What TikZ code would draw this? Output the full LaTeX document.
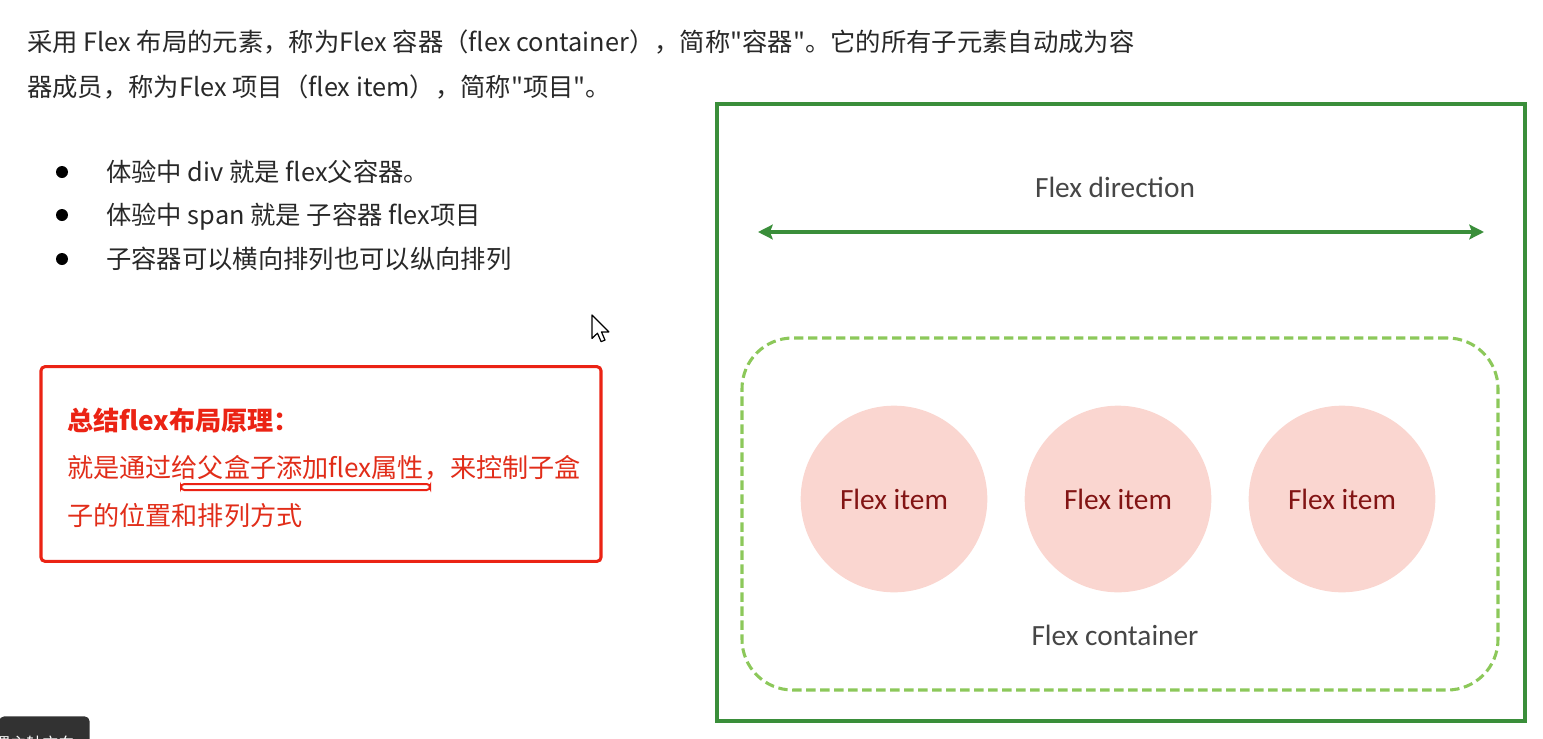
\documentclass[tikz,border=0pt]{standalone}
\usepackage{fontspec}
\setmainfont{Noto Sans CJK SC}
\newfontfamily\cjk{Noto Sans CJK SC}
\newfontfamily\carl{Carlito}
\usetikzlibrary{arrows.meta}
\definecolor{txt}{RGB}{40,40,40}
\definecolor{redc}{RGB}{235,35,20}
\definecolor{redt}{RGB}{225,45,25}
\definecolor{dgreen}{RGB}{58,142,58}
\definecolor{lgreen}{RGB}{140,200,90}
\definecolor{pinkf}{RGB}{250,214,208}
\definecolor{itemt}{RGB}{130,20,20}
\definecolor{greyt}{RGB}{70,70,70}
\definecolor{tipbg}{RGB}{50,50,50}
\tikzset{
  para/.style={anchor=base west,inner sep=0pt,font=\cjk\fontsize{19pt}{22pt}\selectfont,text=txt},
  redline/.style={anchor=base west,inner sep=0pt,font=\cjk\fontsize{19.6pt}{22pt}\selectfont,text=redt},
  bulletdot/.style={circle,fill=black,inner sep=0pt,minimum size=9pt},
  item/.style={circle,fill=pinkf,minimum size=140pt,inner sep=0pt,font=\carl\fontsize{22pt}{26pt}\selectfont,text=itemt},
  dlabel/.style={inner sep=0pt,anchor=base,font=\carl\fontsize{22pt}{26pt}\selectfont,text=greyt},
  dirtip/.tip={Stealth[length=11pt,width=11pt,inset=2pt]}
}
\begin{document}
\begin{tikzpicture}[x=0.75pt,y=-0.75pt]
\useasboundingbox (0,0) rectangle (1543,739);
\clip (0,0) rectangle (1543,739);
% paragraph
\node[para] (p1) at (27,51) {采用 Flex 布局的元素，称为Flex 容器（flex container），简称"容器"。它的所有子元素自动成为容};
\node[para] (p2) at (27,96) {器成员，称为Flex 项目（flex item），简称"项目"。};
% bullets
\node[bulletdot] (b1) at (62,172) {};
\node[bulletdot] (b2) at (62,215) {};
\node[bulletdot] (b3) at (62,259) {};
\node[para] (t1) at (106,181) {体验中 div 就是 flex父容器。};
\node[para] (t2) at (106,224) {体验中 span 就是 子容器 flex项目};
\node[para] (t3) at (106,268) {子容器可以横向排列也可以纵向排列};
% cursor
\draw[black,line width=0.9pt,fill=white,line join=round,shift={(592,315)},scale=1.3]
  (0,0) -- (0,18) -- (4.2,14) -- (7,20.5) -- (10,19.3) -- (7.3,13) -- (13,13) -- cycle;
% red summary box
\node[draw=redc,line width=2.3pt,rounded corners=3pt,minimum width=420pt,minimum height=146pt,inner sep=0pt] (sum) at (321,464) {};
\node[redline,font=\cjk\bfseries\fontsize{19.6pt}{22pt}\selectfont,text=redc] (s1) at (67,430) {总结flex布局原理：};
\node[redline] (s2) at (67,477) {就是通过给父盒子添加flex属性，来控制子盒};
\node[redline] (s3) at (67,525) {子的位置和排列方式};
\draw[redc,line width=1.5pt,rounded corners=2.5pt] (181,484) rectangle (430,490);
% tooltip
\node[fill=tipbg,rounded corners=4pt,minimum width=68pt,minimum height=30pt,inner sep=0pt,anchor=north east] (tip) at (90,716) {};
\node[anchor=base west,inner sep=0pt,text=white,font=\cjk\fontsize{12pt}{14pt}\selectfont] (tiptext) at (-6,749) {置主轴方向};
% flex container diagram
\node[draw=dgreen,line width=2.3pt,minimum width=606pt,minimum height=462.75pt,inner sep=0pt] (outer) at (1121,412.5) {};
\node[dlabel] (dir) at (1115,197) {Flex direction};
\coordinate (al) at (758,232);
\coordinate (ar) at (1484,232);
\draw[dgreen,line width=2.3pt,dirtip-dirtip] (al) -- (ar);
\node[draw=lgreen,line width=2.3pt,dashed,dash pattern=on 7pt off 3.5pt,rounded corners=38pt,minimum width=567pt,minimum height=264pt,inner sep=0pt] (cont) at (1120,514) {};
\node[item] (i1) at (894,499) {Flex item};
\node[item] (i2) at (1118,499) {Flex item};
\node[item] (i3) at (1342,499) {Flex item};
\node[dlabel] (cl) at (1115,645) {Flex container};
\end{tikzpicture}
\end{document}
